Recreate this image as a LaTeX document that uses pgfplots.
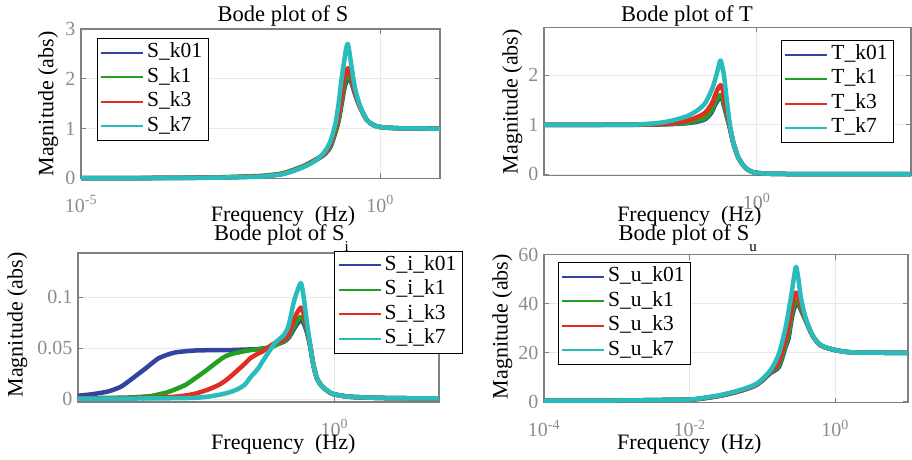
\documentclass[border=0pt]{standalone}
\usepackage{fontspec}
\setmainfont{Liberation Serif}
\usepackage{pgfplots}
\usepackage{pgfplotstable}
\pgfplotsset{compat=1.18}

\definecolor{cblue}{RGB}{50,68,160}
\definecolor{cgreen}{RGB}{34,160,34}
\definecolor{cred}{RGB}{225,45,35}
\definecolor{ccyan}{RGB}{40,188,188}
\definecolor{axgray}{RGB}{128,128,128}
\definecolor{tickgray}{RGB}{140,140,140}
\definecolor{gridgray}{RGB}{232,232,232}

% Bode plot of S
\pgfplotstableread{
f        a      b      c      d
1e-5     0.002  0.002  0.002  0.001
1e-4     0.005  0.006  0.005  0.004
1e-3     0.012  0.014  0.012  0.010
3.16e-3  0.022  0.026  0.022  0.018
1e-2     0.040  0.048  0.042  0.034
1.445e-2 0.055  0.065  0.058  0.050
2.24e-2  0.085  0.095  0.088  0.080
3.16e-2  0.13   0.15   0.14   0.13
5.25e-2  0.23   0.25   0.24   0.23
7.67e-2  0.34   0.35   0.35   0.33
0.1122   0.46   0.47   0.48   0.50
0.1459   0.62   0.64   0.68   0.73
0.1766   0.90   0.92   0.98   1.07
0.1995   1.12   1.15   1.25   1.45
0.2239   1.45   1.50   1.62   1.95
0.2500   1.78   1.85   2.00   2.35
0.2692   1.93   2.00   2.16   2.60
0.2884   2.00   2.07   2.21   2.70
0.3090   1.98   2.03   2.14   2.50
0.3365   1.90   1.93   2.00   2.20
0.3819   1.68   1.70   1.72   1.80
0.4634   1.42   1.43   1.43   1.45
0.5998   1.17   1.17   1.17   1.17
0.7745   1.07   1.07   1.07   1.07
1        1.03   1.03   1.03   1.03
2.14     1.005  1.005  1.005  1.005
10       1.0    1.0    1.0    1.0
}\tabS

% Bode plot of T
\pgfplotstableread{
f         a      b      c      d
3.715e-4  1.0    1.0    1.0    1.0
3.16e-3   1.0    1.0    1.0    1.0
1e-2      1.0    1.0    1.002  1.004
1.32e-2   1.0    1.001  1.004  1.008
2.75e-2   1.005  1.008  1.015  1.04
4.52e-2   1.015  1.02   1.035  1.09
7.41e-2   1.03   1.04   1.08   1.17
0.1076    1.06   1.08   1.15   1.28
0.1466    1.11   1.13   1.24   1.43
0.1879    1.25   1.29   1.42   1.70
0.2089    1.38   1.43   1.56   1.87
0.2317    1.48   1.53   1.70   2.07
0.2512    1.54   1.59   1.78   2.25
0.2630    1.55   1.60   1.80   2.30
0.2786    1.52   1.57   1.76   2.18
0.2972    1.38   1.42   1.56   2.00
0.3281    1.18   1.20   1.28   1.53
0.3715    0.92   0.93   0.95   0.99
0.4198    0.63   0.63   0.64   0.65
0.5047    0.34   0.34   0.34   0.34
0.6471    0.14   0.14   0.14   0.14
0.8810    0.04   0.04   0.04   0.04
1.445     0.012  0.012  0.012  0.012
3.16      0.004  0.004  0.004  0.004
10        0.001  0.001  0.001  0.001
309       0.0    0.0    0.0    0.0
}\tabT

% Bode plot of S_i
\pgfplotstableread{
f         a       b       c       d
7.24e-5   0.0032  0.0008  0.0005  0.0003
1.259e-4  0.0048  0.0009  0.0006  0.0003
2.239e-4  0.0075  0.0011  0.0007  0.0004
3.548e-4  0.012   0.0013  0.0008  0.0004
4.786e-4  0.0175  0.0015  0.0009  0.0004
6.607e-4  0.024   0.0019  0.0010  0.0005
8.913e-4  0.030   0.0025  0.0011  0.0005
1.122e-3  0.035   0.0030  0.0012  0.0006
1.445e-3  0.040   0.0045  0.0014  0.0006
1.995e-3  0.0435  0.0065  0.0017  0.0007
2.692e-3  0.0458  0.0095  0.0023  0.0008
3.981e-3  0.0470  0.0140  0.0035  0.0009
5.623e-3  0.0477  0.0203  0.0052  0.0012
7.244e-3  0.0479  0.0250  0.0072  0.0017
9.333e-3  0.0480  0.0300  0.0095  0.0024
1.349e-2  0.0480  0.0375  0.0137  0.0040
1.738e-2  0.0480  0.0420  0.0180  0.0055
2.239e-2  0.0482  0.0445  0.0235  0.0075
2.818e-2  0.0484  0.0458  0.0290  0.0100
3.631e-2  0.0486  0.0472  0.0350  0.0145
4.365e-2  0.0488  0.0480  0.0400  0.0210
5.888e-2  0.0490  0.0490  0.0448  0.0300
6.761e-2  0.0493  0.0497  0.0464  0.0360
9.120e-2  0.0510  0.0505  0.0520  0.0480
0.1096    0.0530  0.0525  0.0550  0.0550
0.1514    0.0562  0.0570  0.0585  0.0627
0.1820    0.0600  0.0610  0.0640  0.0720
0.2188    0.0680  0.0700  0.0770  0.0940
0.2512    0.0740  0.0770  0.0850  0.1060
0.2884    0.0775  0.0810  0.0899  0.1140
0.3162    0.0750  0.0780  0.0850  0.1020
0.3589    0.0660  0.0680  0.0710  0.0760
0.4074    0.0520  0.0520  0.0520  0.0530
0.4571    0.0340  0.0340  0.0340  0.0340
0.5248    0.0200  0.0200  0.0200  0.0200
0.6310    0.0125  0.0125  0.0125  0.0125
0.7943    0.0075  0.0075  0.0075  0.0075
0.9550    0.0049  0.0049  0.0049  0.0049
1.778     0.0022  0.0022  0.0022  0.0022
6.31      0.0010  0.0010  0.0010  0.0010
48.98     0.0005  0.0005  0.0005  0.0005
}\tabSi

% Bode plot of S_u
\pgfplotstableread{
f         a      b      c      d
1e-4      0.5    0.5    0.5    0.5
1e-3      0.6    0.6    0.6    0.6
3.162e-3  0.75   0.75   0.75   0.75
1e-2      1.0    1.0    1.0    1.0
1.413e-2  1.3    1.35   1.4    1.5
2.649e-2  2.5    2.6    2.7    2.8
5.012e-2  4.5    4.6    4.7    4.9
8.511e-2  7.1    7.2    7.4    7.6
0.1297    11.8   12.1   12.5   13.0
0.1690    14.3   15.0   16.4   19.7
0.2089    22.5   23.5   25.8   30.5
0.2291    26.0   27.5   31.0   37.0
0.2512    33.5   35.0   38.0   44.0
0.2692    37.5   39.0   42.0   50.0
0.2897    40.0   41.0   44.5   55.0
0.3126    39.5   40.5   43.0   50.0
0.3365    37.5   38.0   39.5   42.7
0.3945    33.0   33.2   33.5   34.0
0.4875    27.0   27.0   27.1   27.2
0.6353    23.0   23.0   23.0   23.1
1         21.1   21.1   21.1   21.1
1.648     20.2   20.2   20.2   20.2
3.162     20.05  20.05  20.05  20.05
10        20.0   20.0   20.0   20.0
}\tabSu

\pgfplotsset{
  bode/.style={
    scale only axis, anchor=south west, clip=false,
    axis line style={draw=axgray, line width=1.5pt},
    tick style={draw=axgray, line width=1pt},
    tick align=inside, major tick length=5pt,
    xminorticks=false, yminorticks=false,
    xmajorgrids, ymajorgrids,
    major grid style={draw=gridgray, line width=0.8pt},
    tick label style={font=\fontsize{20}{24}\selectfont, text=tickgray},
    xticklabel style={anchor=base, yshift=-34pt},
    yticklabel style={xshift=-2pt},
    label style={font=\fontsize{22}{26}\selectfont},
    every axis title shift=0pt,
    title style={font=\fontsize{22.5}{27}\selectfont, anchor=base},
    xlabel={Frequency\ \ (Hz)},
    ylabel={Magnitude (abs)},
    xlabel style={anchor=base},
    ylabel style={anchor=base},
    legend cell align=left,
    legend style={font=\fontsize{21.5}{25}\selectfont, draw=black, line width=0.8pt,
      anchor=north west, inner xsep=3pt, inner ysep=2pt,
      nodes={inner xsep=3pt, inner ysep=2pt, text height=15pt, text depth=5.5pt}},
    legend image code/.code={\draw[#1, line width=2pt] (0pt,0pt) -- (42pt,0pt);},
    every axis plot/.append style={line width=4.5pt, line join=round, mark=none,
      smooth, tension=0.45},
  }
}

\begin{document}
\begin{tikzpicture}[x=1pt,y=1pt]
\useasboundingbox (0,0) rectangle (912,459);

% ---- Panel 1: S
\begin{semilogxaxis}[bode,
  at={(81pt,280.7pt)}, width=359pt, height=149.3pt,
  xmin=1e-5, xmax=10, ymin=0, ymax=3,
  xtick={1e-5,1}, xticklabels={10\textsuperscript{-5},10\textsuperscript{0}},
  ytick={0,1,2,3}, yticklabels={0,1,2,3},
  title={Bode plot of S},
  title style={at={(axis description cs:0.5627,1.049)}},
  xlabel style={at={(axis description cs:0.5627,-0.2907)}},
  ylabel style={at={(axis description cs:-0.0772,0.4977)}},
  legend style={at={(axis description cs:0.0437,0.9377)}},
]
\addplot[cblue]  table[x=f,y=a]{\tabS};
\addplot[cgreen] table[x=f,y=b]{\tabS};
\addplot[cred]   table[x=f,y=c]{\tabS};
\addplot[ccyan]  table[x=f,y=d]{\tabS};
\legend{S\_k01,S\_k1,S\_k3,S\_k7}
\end{semilogxaxis}

% ---- Panel 2: T
\begin{semilogxaxis}[bode,
  at={(544pt,283.3pt)}, width=367pt, height=148.4pt,
  xmin=3.715e-4, xmax=309, ymin=-0.03, ymax=2.97,
  xtick={1}, xticklabels={10\textsuperscript{0}},
  ytick={0,1,2}, yticklabels={0,1,2},
  title={Bode plot of T},
  title style={at={(axis description cs:0.3896,1.038)}},
  xlabel style={at={(axis description cs:0.396,-0.31)}},
  ylabel style={at={(axis description cs:-0.0717,0.4987)}},
  legend style={at={(axis description cs:0.6458,0.9144)}},
]
\addplot[cblue]  table[x=f,y=a]{\tabT};
\addplot[cgreen] table[x=f,y=b]{\tabT};
\addplot[cred]   table[x=f,y=c]{\tabT};
\addplot[ccyan]  table[x=f,y=d]{\tabT};
\legend{T\_k01,T\_k1,T\_k3,T\_k7}
\end{semilogxaxis}

% ---- Panel 3: S_i
\begin{semilogxaxis}[bode,
  at={(78pt,57pt)}, width=361pt, height=149pt,
  xmin=7.24e-5, xmax=48.98, ymin=-0.00295, ymax=0.1436,
  xtick={1}, xticklabels={10\textsuperscript{0}},
  ytick={0,0.05,0.1}, yticklabels={0,0.05,0.1},
  title={Bode plot of S\raisebox{-11pt}{\fontsize{15}{15}\selectfont i}},
  title style={at={(axis description cs:0.5637,1.0826)}},
  xlabel style={at={(axis description cs:0.5687,-0.3174)}},
  ylabel style={at={(axis description cs:-0.1532,0.5168)}},
  legend style={at={(axis description cs:0.71,1.0154)}},
]
\addplot[cblue]  table[x=f,y=a]{\tabSi};
\addplot[cgreen] table[x=f,y=b]{\tabSi};
\addplot[cred]   table[x=f,y=c]{\tabSi};
\addplot[ccyan]  table[x=f,y=d]{\tabSi};
\legend{S\_i\_k01,S\_i\_k1,S\_i\_k3,S\_i\_k7}
\end{semilogxaxis}

% ---- Panel 4: S_u
\begin{semilogxaxis}[bode,
  at={(544pt,56.3pt)}, width=364pt, height=148.2pt,
  xmin=1e-4, xmax=10, ymin=-0.3, ymax=60,
  xtick={1e-4,1e-2,1}, xticklabels={10\textsuperscript{-4},10\textsuperscript{-2},10\textsuperscript{0}},
  ytick={0,20,40,60}, yticklabels={0,20,40,60},
  title={Bode plot of S\raisebox{-11pt}{\fontsize{15}{15}\selectfont u}},
  title style={at={(axis description cs:0.3948,1.093)}},
  xlabel style={at={(axis description cs:0.3992,-0.3144)}},
  ylabel style={at={(axis description cs:-0.0997,0.5128)}},
  legend style={at={(axis description cs:0.0376,0.9474)}},
]
\addplot[cblue]  table[x=f,y=a]{\tabSu};
\addplot[cgreen] table[x=f,y=b]{\tabSu};
\addplot[cred]   table[x=f,y=c]{\tabSu};
\addplot[ccyan]  table[x=f,y=d]{\tabSu};
\legend{S\_u\_k01,S\_u\_k1,S\_u\_k3,S\_u\_k7}
\end{semilogxaxis}
\end{tikzpicture}
\end{document}
